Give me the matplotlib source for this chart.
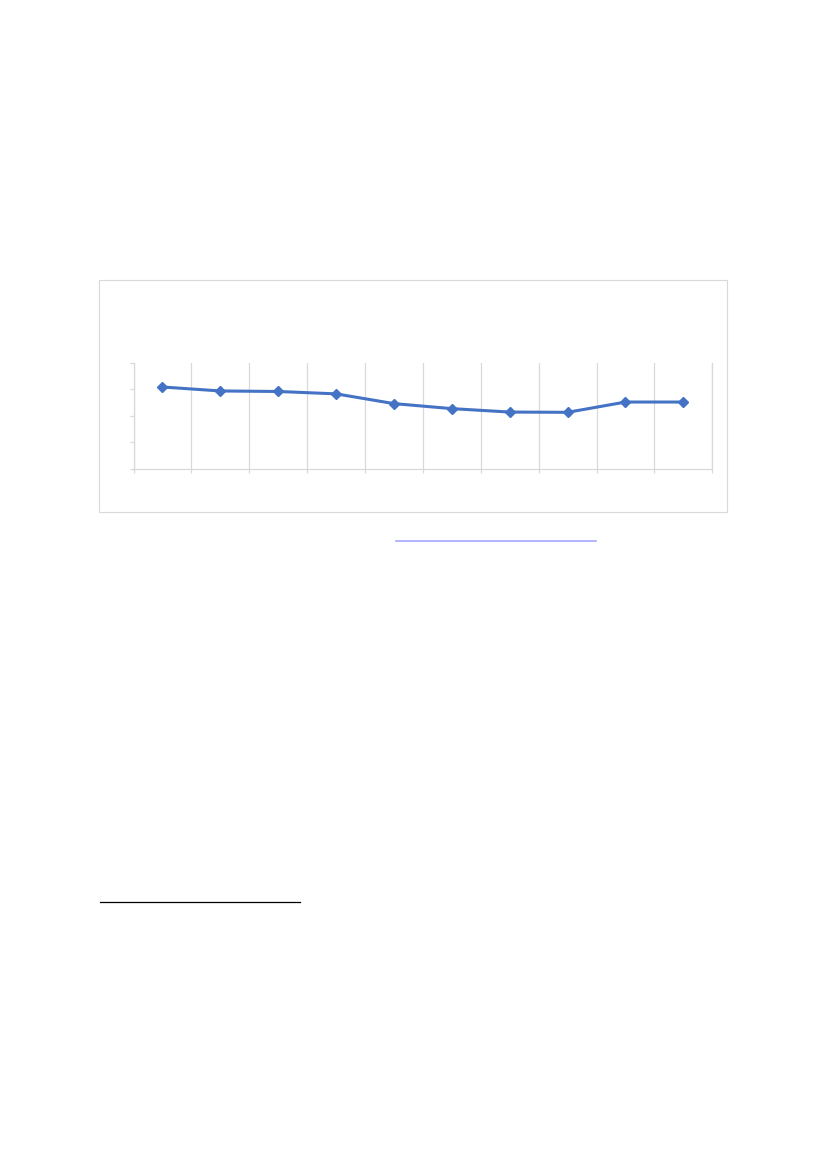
import matplotlib
matplotlib.use("Agg")
import matplotlib.pyplot as plt
from matplotlib.patches import Rectangle
from matplotlib.lines import Line2D

# Data (no labels visible in the reference)
categories = list(range(1, 11))
values = [3.09, 2.94, 2.92, 2.83, 2.46, 2.27, 2.14, 2.13, 2.52, 2.52]
y_ticks = [0, 1, 2, 3, 4]

W, H = 827, 1169
fig = plt.figure(figsize=(W / 100, H / 100), dpi=100)
fig.patch.set_facecolor("white")

def fx(px):
    return px / W

def fy(py):
    return 1 - py / H

# Chart frame
fig.patches.append(Rectangle((fx(98.5), fy(512)), fx(727) - fx(98.5), fy(280) - fy(512),
                             transform=fig.transFigure, fill=False,
                             edgecolor="#D9D9D9", linewidth=0.8))

ax = fig.add_axes([fx(133.5), fy(468.5), fx(712.3) - fx(133.5), fy(363) - fy(468.5)])
ax.set_xlim(0.5, 10.5)
ax.set_ylim(y_ticks[0], y_ticks[-1])

grid_c = "#D9D9D9"
ax.spines["top"].set_visible(False)
for s in ["left", "bottom", "right"]:
    ax.spines[s].set_color(grid_c)
    ax.spines[s].set_linewidth(0.9)

ax.set_yticks(y_ticks)
ax.set_xticks([c + 0.5 for c in [0] + categories])
ax.xaxis.grid(True, color=grid_c, linewidth=0.9)
ax.set_axisbelow(True)
ax.tick_params(axis="both", colors=grid_c, length=3, width=0.9,
               labelleft=False, labelbottom=False)
ax.tick_params(axis="y", right=False)

ax.plot(categories, values, color="#4472C4", linewidth=2.2,
        marker="D", markersize=5, markerfacecolor="#4472C4",
        markeredgecolor="#4472C4", clip_on=False, zorder=3)

# Hyperlink underline below the chart
fig.add_artist(Line2D([fx(396), fx(596)], [fy(540.7), fy(540.7)],
                      transform=fig.transFigure, color="#A6A6FF", linewidth=1.2))
# Footnote separator line
fig.add_artist(Line2D([fx(100), fx(300)], [fy(902), fy(902)],
                      transform=fig.transFigure, color="black", linewidth=0.9))

fig.savefig("out.png", dpi=100, facecolor="white")
